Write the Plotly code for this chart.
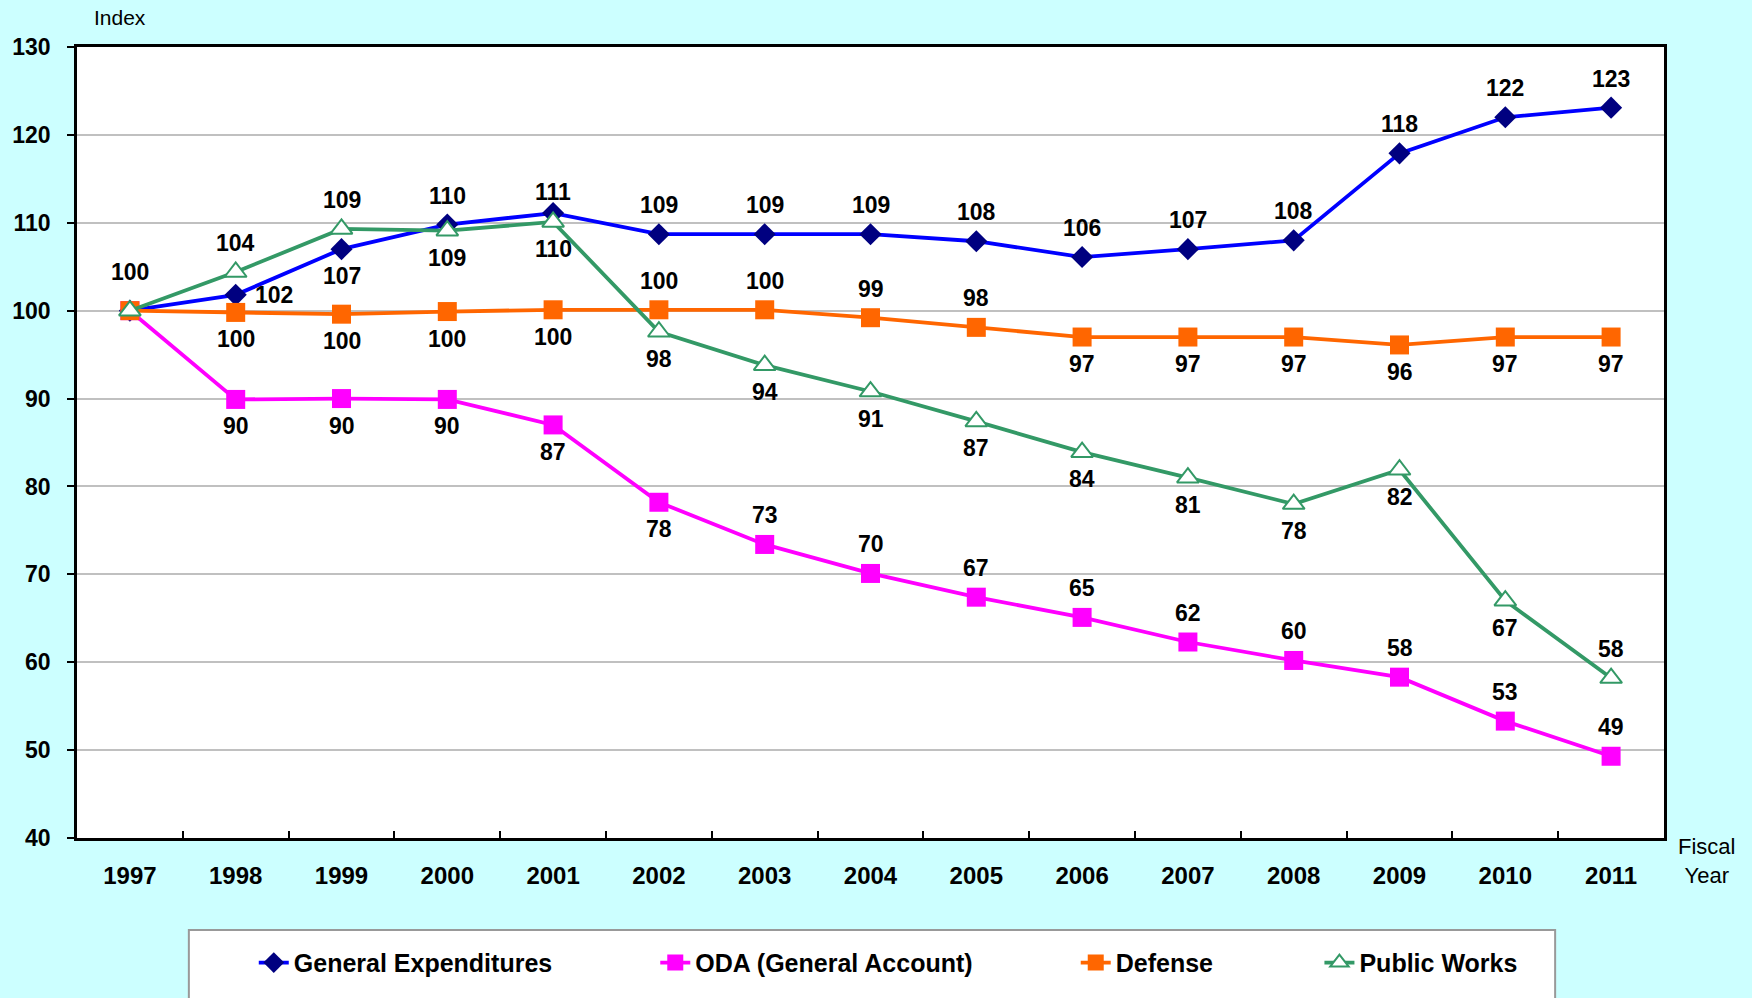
import plotly.graph_objects as go

# ---------------- data ----------------
years = [str(y) for y in range(1997, 2012)]
general = [100.0, 101.8, 107.0, 109.8, 111.1, 108.7, 108.7, 108.7, 107.9, 106.1, 107.0, 108.0, 117.9, 122.0, 123.1]
oda = [100.0, 89.9, 90.0, 89.9, 87.0, 78.2, 73.4, 70.1, 67.4, 65.1, 62.3, 60.2, 58.3, 53.3, 49.3]
defense = [100.0, 99.8, 99.6, 99.9, 100.1, 100.1, 100.1, 99.2, 98.1, 97.0, 97.0, 97.0, 96.1, 97.0, 97.0]
public_works = [100.0, 104.4, 109.3, 109.1, 110.1, 97.6, 93.8, 90.8, 87.4, 83.9, 81.0, 78.0, 81.9, 67.0, 58.2]
series_names = ["General Expenditures", "ODA (General Account)", "Defense", "Public Works"]

# label placement (where each data label sits relative to its point)
ge_pos = ["top2", "right", "bottom", "top", "top_s"] + ["top"] * 10
oda_pos = [""] + ["bottom"] * 5 + ["top"] * 9
def_pos = [""] + ["bottom"] * 4 + ["top"] * 4 + ["bottom"] * 6
pw_pos = ["", "top", "top"] + ["bottom"] * 11 + ["top"]

FONT = "Liberation Sans, Arial, sans-serif"
W, H = 1752, 998
L, R, T, B = 75, 1664, 47, 839  # plot area in pixels
pw_ = R - L
ph_ = B - T


def px_x(px):
    return (px - L) / pw_


def px_y(py):
    return (B - py) / ph_


fig = go.Figure()

styles = [
    dict(line=dict(color="#0000FF", width=3.8),
         marker=dict(symbol="diamond", size=17, color="#000080", line=dict(width=0))),
    dict(line=dict(color="#FF00FF", width=3.8),
         marker=dict(symbol="square", size=19, color="#FF00FF", line=dict(width=0))),
    dict(line=dict(color="#FF6600", width=3.8),
         marker=dict(symbol="square", size=19, color="#FF6600", line=dict(width=0))),
    dict(line=dict(color="#339966", width=3.8),
         marker=dict(symbol="triangle-up", size=19, color="white",
                     line=dict(color="#339966", width=2))),
]
all_vals = [general, oda, defense, public_works]
all_pos = [ge_pos, oda_pos, def_pos, pw_pos]
legend_ids = ["legend", "legend2", "legend3", "legend4"]

for name, vals, st, lg in zip(series_names, all_vals, styles, legend_ids):
    fig.add_trace(go.Scatter(x=years, y=vals, name=name, mode="lines+markers",
                             line=st["line"], marker=st["marker"], legend=lg,
                             hoverinfo="x+y+name"))

shifts = {"top": (0, 29), "top2": (0, 39), "top_s": (0, 21), "bottom": (0, -27), "right": (38, 0)}

# data labels (x given as category index on the category axis)
for vals, pos in zip(all_vals, all_pos):
    for i, (v, p) in enumerate(zip(vals, pos)):
        if not p:
            continue
        xs, ys = shifts[p]
        fig.add_annotation(x=i, y=v, xref="x", yref="y", text=str(int(round(v))),
                           showarrow=False, xshift=xs, yshift=ys,
                           font=dict(family=FONT, size=23, color="black", weight="bold"))

# axis titles
fig.add_annotation(xref="paper", yref="paper", x=px_x(90), y=px_y(17), xanchor="left",
                   yanchor="middle", text="Index", showarrow=False,
                   font=dict(family=FONT, size=21, color="black"))
fig.add_annotation(xref="paper", yref="paper", x=px_x(1707), y=px_y(862), xanchor="center",
                   yanchor="middle", text="Fiscal<br>Year", showarrow=False, align="center",
                   font=dict(family=FONT, size=22, color="black"))

# legend box
fig.add_shape(type="rect", xref="paper", yref="paper",
              x0=px_x(187), x1=px_x(1555), y0=px_y(931), y1=px_y(1010),
              fillcolor="white", line=dict(color="#999999", width=2), layer="below")

leg_common = dict(orientation="h", bgcolor="rgba(0,0,0,0)", borderwidth=0,
                  font=dict(family=FONT, size=25, color="black", weight="bold"),
                  yanchor="middle", xanchor="left", y=px_y(964))
leg_x = [252, 654, 1075, 1319]

fig.update_layout(
    width=W, height=H,
    paper_bgcolor="#CCFFFF", plot_bgcolor="white",
    margin=dict(l=L, r=W - R, t=T, b=H - B, pad=0),
    showlegend=True,
    legend=dict(x=px_x(leg_x[0]), **leg_common),
    legend2=dict(x=px_x(leg_x[1]), **leg_common),
    legend3=dict(x=px_x(leg_x[2]), **leg_common),
    legend4=dict(x=px_x(leg_x[3]), **leg_common),
    xaxis=dict(type="category", categoryorder="array", categoryarray=years,
               range=[-0.5, len(years) - 0.5],
               showline=True, linecolor="black", linewidth=2.5, mirror=True,
               showgrid=False, ticks="inside", ticklen=7, tickwidth=2, tickcolor="black",
               tickson="boundaries", ticklabelstandoff=14,
               tickfont=dict(family=FONT, size=24, color="black", weight="bold"),
               zeroline=False),
    yaxis=dict(range=[40, 130], dtick=10, tick0=40,
               showline=True, linecolor="black", linewidth=2.5, mirror=True,
               showgrid=True, gridcolor="#C0C0C0", gridwidth=2,
               ticks="outside", ticklen=7, tickwidth=2, tickcolor="black",
               ticklabelstandoff=12,
               tickfont=dict(family=FONT, size=23, color="black", weight="bold"),
               zeroline=False),
)

fig.write_html("out.html", config={"displayModeBar": False},
               post_script="document.body.style.margin='0';")
